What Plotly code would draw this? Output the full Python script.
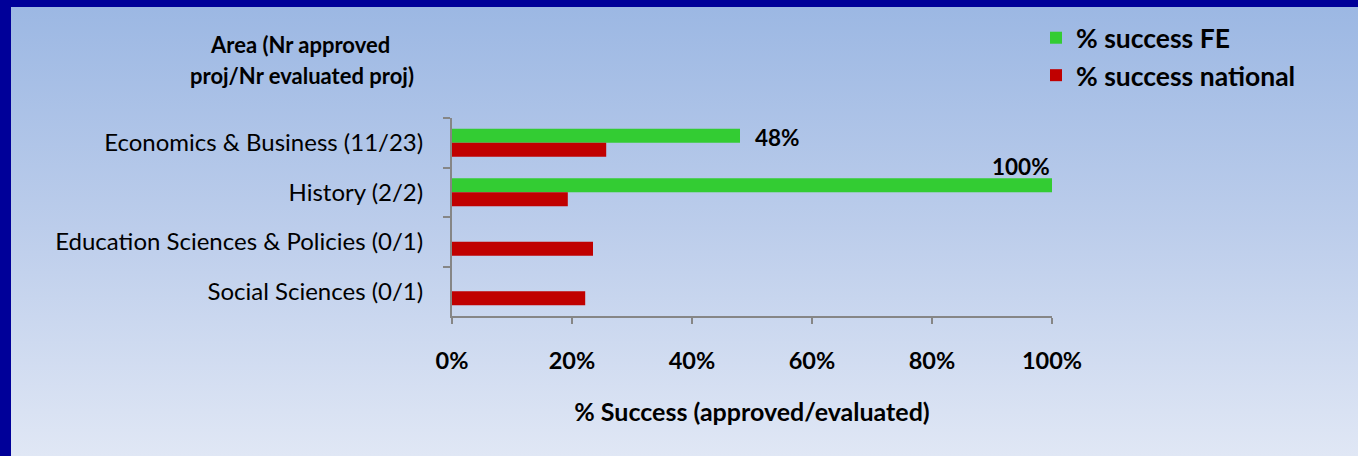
import base64
import plotly.graph_objects as go

# ---- data ----
categories = [
    "Economics & Business (11/23)",
    "History (2/2)",
    "Education Sciences & Policies (0/1)",
    "Social Sciences (0/1)",
]
success_fe = [0.48, 1.00, 0.0, 0.0]
success_national = [0.257, 0.193, 0.235, 0.222]
fe_labels = {"Economics & Business (11/23)": "48%", "History (2/2)": "100%"}
x_ticks = [0, 0.2, 0.4, 0.6, 0.8, 1.0]
x_tick_text = ["0%", "20%", "40%", "60%", "80%", "100%"]

W, H = 1358, 456
L, R, T, B = 452, 306, 118, 140
PW, PH = W - L - R, H - T - B

FONT = "Lato"

svg = f'''<svg xmlns="http://www.w3.org/2000/svg" width="{W}" height="{H}" viewBox="0 0 {W} {H}" preserveAspectRatio="none">
<defs><linearGradient id="g" x1="0" y1="0" x2="0" y2="1">
<stop offset="0" stop-color="#9bb7e3"/>
<stop offset="0.5" stop-color="#bccdeb"/>
<stop offset="1" stop-color="#e0e7f5"/>
</linearGradient></defs>
<rect x="0" y="0" width="{W}" height="{H}" fill="url(#g)"/>
<rect x="0" y="0" width="{W}" height="7" fill="#000099"/>
<rect x="0" y="0" width="11" height="{H}" fill="#000099"/>
</svg>'''
svg_uri = "data:image/svg+xml;base64," + base64.b64encode(svg.encode()).decode()

fig = go.Figure()
fig.add_trace(go.Bar(
    y=categories, x=success_fe, orientation="h", name="% success FE",
    marker=dict(color="#33cc33", line=dict(width=0)), legendgroup="a",
))
fig.add_trace(go.Bar(
    y=categories, x=success_national, orientation="h", name="% success national",
    marker=dict(color="#c00000", line=dict(width=0)), legendgroup="b",
))

LABEL_FONT = dict(family=FONT, size=22.5, color="black", weight="bold")
annotations = []
for cat, val in zip(categories, success_fe):
    if cat in fe_labels:
        if val >= 1.0:
            annotations.append(dict(x=val, y=cat, xref="x", yref="y", text=fe_labels[cat],
                                    showarrow=False, xanchor="right", yanchor="middle",
                                    xshift=0, yshift=26, font=LABEL_FONT))
        else:
            annotations.append(dict(x=val, y=cat, xref="x", yref="y", text=fe_labels[cat],
                                    showarrow=False, xanchor="left", yanchor="middle",
                                    xshift=13, yshift=5, font=LABEL_FONT))

AREA_FONT = dict(family=FONT, size=22, color="black", weight="bold")
annotations.append(dict(x=(300 - L) / PW, y=(H - B - 45) / PH, xref="paper", yref="paper",
                        text="Area (Nr approved", showarrow=False, xanchor="center", yanchor="middle",
                        font=AREA_FONT))
annotations.append(dict(x=(302 - L) / PW, y=(H - B - 75) / PH, xref="paper", yref="paper",
                        text="proj/Nr evaluated proj)", showarrow=False, xanchor="center", yanchor="middle",
                        font=AREA_FONT))

fig.update_layout(
    width=W, height=H,
    margin=dict(l=L, r=R, t=T, b=B, pad=0),
    paper_bgcolor="#c6d4ee",
    plot_bgcolor="rgba(0,0,0,0)",
    barmode="group",
    bargap=0.434,
    bargroupgap=0,
    showlegend=True,
    legend=dict(x=(1036 - L) / PW, y=(H - B - 14) / PH, xanchor="left", yanchor="top",
                bgcolor="rgba(0,0,0,0)", font=dict(family=FONT, size=26.5, color="black", weight="bold"),
                traceorder="normal", tracegroupgap=10, itemwidth=30),
    images=[dict(source=svg_uri, xref="paper", yref="paper",
                 x=-L / PW, y=(H - B) / PH, sizex=W / PW, sizey=H / PH,
                 sizing="stretch", layer="below", xanchor="left", yanchor="top")],
    annotations=annotations,
    font=dict(family=FONT, color="black"),
)

fig.update_xaxes(
    range=[0, 1], tickvals=x_ticks, ticktext=x_tick_text,
    showgrid=False, zeroline=False, showline=True, linecolor="#868686", linewidth=2,
    ticks="outside", ticklen=6, tickwidth=2, tickcolor="#868686",
    ticklabelstandoff=17,
    tickfont=dict(family=FONT, size=23.5, color="black", weight="bold"),
    title=dict(text="% Success (approved/evaluated)", standoff=30,
               font=dict(family=FONT, size=25, color="black", weight="bold")),
)
fig.update_yaxes(
    categoryorder="array", categoryarray=categories, autorange="reversed",
    showgrid=False, zeroline=False, showline=True, linecolor="#868686", linewidth=2,
    ticks="outside", ticklen=7, tickwidth=2, tickcolor="#868686", tickson="boundaries",
    ticklabelstandoff=22,
    tickfont=dict(family=FONT, size=24, color="black"),
)

fig.write_html("out.html", config={"displayModeBar": False},
               post_script="document.body.style.margin='0';document.body.style.overflow='hidden';")
